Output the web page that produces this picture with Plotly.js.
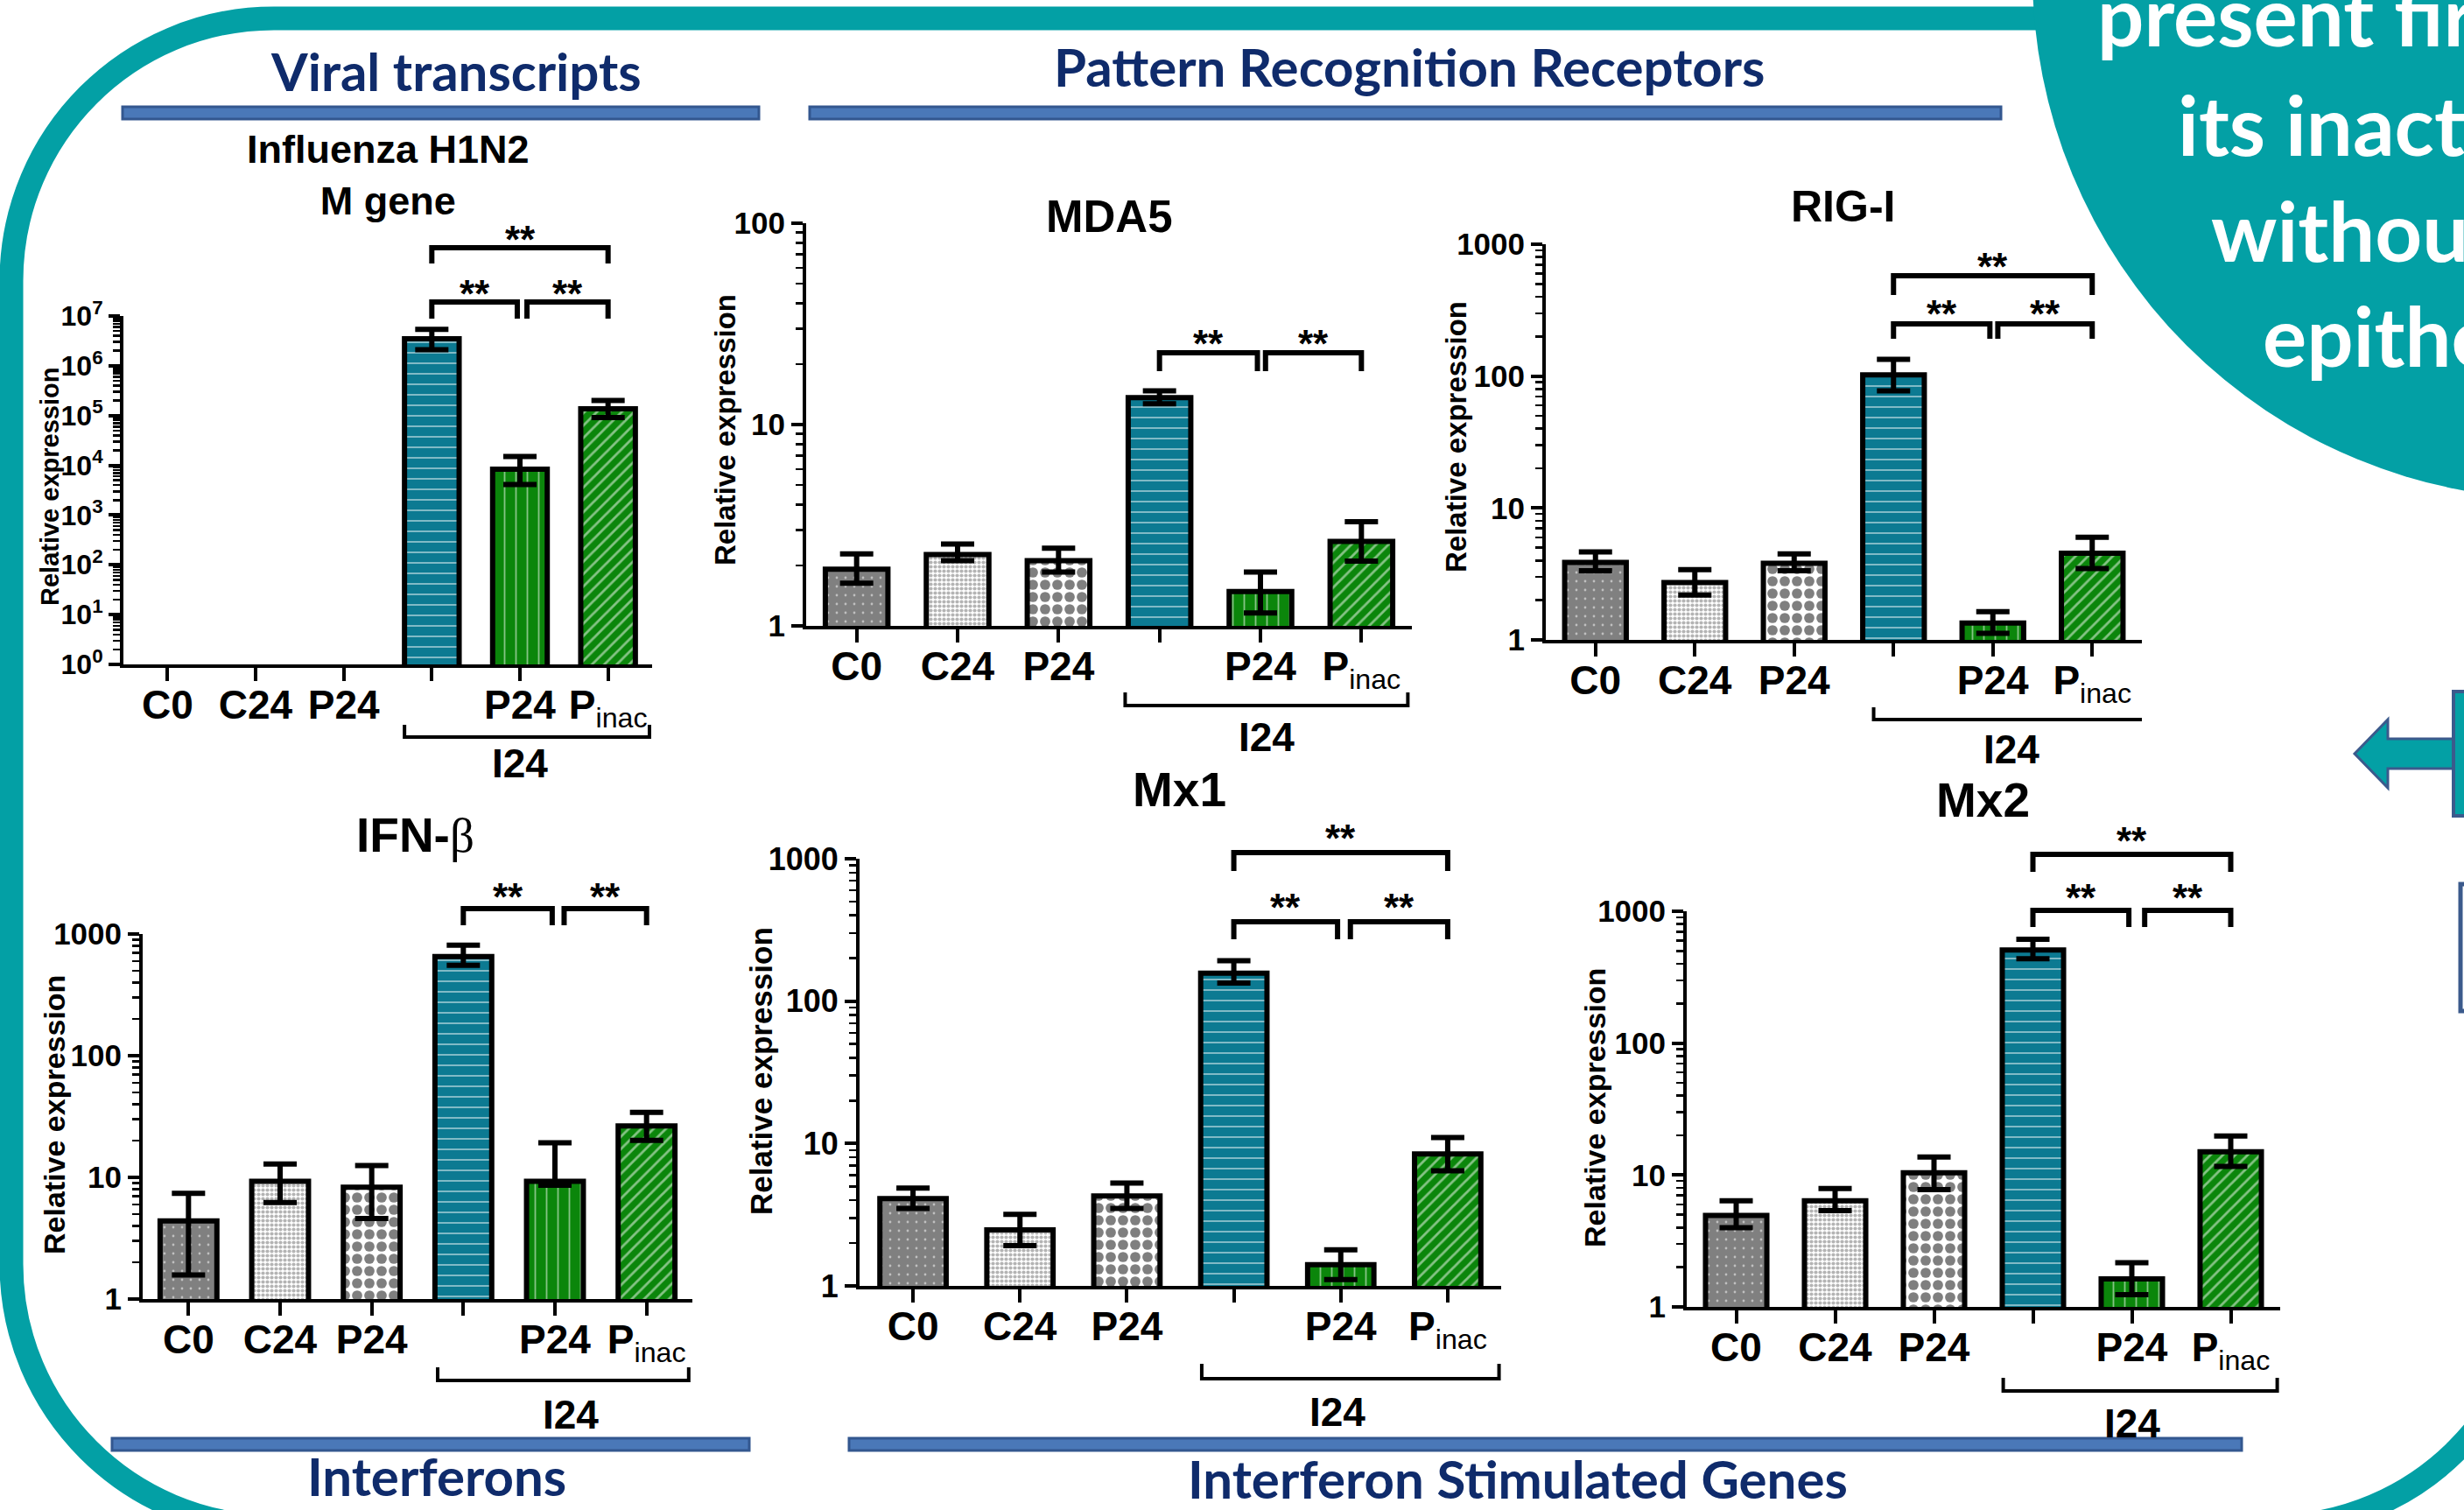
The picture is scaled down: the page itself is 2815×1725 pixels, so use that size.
<!DOCTYPE html>
<html><head><meta charset="utf-8">
<script src="https://cdn.plot.ly/plotly-3.0.1.min.js"></script>
<style>html,body{margin:0;padding:0;background:#fff;overflow:hidden}</style>
</head><body><div id="chart" style="width:2815px;height:1725px"></div>
<script>
// ---------------- DATA ----------------
const categories = ['C0', 'C24', 'P24', 'I24', 'I24 + P24', 'I24 + Pinac'];
const xTickText = ['<b>C0</b>', '<b>C24</b>', '<b>P24</b>', '', '<b>P24</b>', '<b>P</b><sub>inac</sub>'];
const groupLabel = 'I24';
const yAxisTitle = 'Relative expression';

const fluTickVals = [1, 10, 100, 1e3, 1e4, 1e5, 1e6, 1e7];
const fluTickText = ['10<sup>0</sup>', '10<sup>1</sup>', '10<sup>2</sup>', '10<sup>3</sup>', '10<sup>4</sup>', '10<sup>5</sup>', '10<sup>6</sup>', '10<sup>7</sup>'];
const logTickVals = [1, 10, 100, 1000];
const logTickText = ['1', '10', '100', '1000'];

// Influenza H1N2 M gene
const fluMean = [null, null, null, 3.5e6, 8.4e3, 1.37e5];
const fluHi   = [null, null, null, 5.4e6, 1.5e4, 2.0e5];
const fluLo   = [null, null, null, 2.1e6, 4.1e3, 9.1e4];
const fluSig  = [[3, 4, '**'], [4, 5, '**'], [3, 5, '**']];

// MDA5
const mda5Mean = [1.91, 2.26, 2.11, 13.6, 1.48, 2.63];
const mda5Hi   = [2.28, 2.55, 2.43, 14.7, 1.85, 3.29];
const mda5Lo   = [1.63, 2.11, 1.85, 12.7, 1.16, 2.10];
const mda5Sig  = [[3, 4, '**'], [4, 5, '**']];

// RIG-I
const rigMean = [3.87, 2.72, 3.81, 102, 1.34, 4.54];
const rigHi   = [4.64, 3.41, 4.48, 134, 1.64, 6.0];
const rigLo   = [3.34, 2.19, 3.34, 77.4, 1.12, 3.47];
const rigSig  = [[3, 4, '**'], [4, 5, '**'], [3, 5, '**']];

// IFN-beta
const ifnMean = [4.39, 9.27, 8.31, 652, 9.27, 26.5];
const ifnHi   = [7.38, 12.9, 12.5, 811, 19.2, 34.2];
const ifnLo   = [1.58, 6.2, 4.59, 553, 8.6, 20.1];
const ifnSig  = [[3, 4, '**'], [4, 5, '**']];

// Mx1
const mx1Mean = [4.11, 2.47, 4.28, 157, 1.41, 8.44];
const mx1Hi   = [4.86, 3.18, 5.27, 192, 1.79, 11.0];
const mx1Lo   = [3.5, 1.92, 3.5, 134, 1.11, 6.43];
const mx1Sig  = [[3, 4, '**'], [4, 5, '**'], [3, 5, '**']];

// Mx2
const mx2Mean = [4.94, 6.38, 10.4, 509, 1.63, 15.0];
const mx2Hi   = [6.38, 7.89, 13.7, 614, 2.16, 19.8];
const mx2Lo   = [3.99, 5.37, 7.76, 437, 1.24, 11.6];
const mx2Sig  = [[3, 4, '**'], [4, 5, '**'], [3, 5, '**']];

const sectionTitles = ['Viral transcripts', 'Pattern Recognition Receptors', 'Interferons', 'Interferon Stimulated Genes'];
const circleLines = ['present first', 'its inactivation', 'without', 'epithelium'];

// ---------------- STYLE / LAYOUT ----------------
const W = 2815, H = 1725;
const TEAL = '#03a0a5', NAVY = '#0f2b6b', BLUE = '#4a78b8', BLUE_EDGE = '#33578f';
const px = x => x / W;
const py = y => 1 - y / H;
const pt = (x, y) => px(x).toFixed(5) + ',' + py(y).toFixed(5);

const barBg    = ['#808080', '#ffffff', '#ffffff', '#0c7a92', '#0b860b', '#0b860b'];
const barFg    = ['#ffffff', '#6a6a6a', '#000000', '#ffffff', '#ffffff', '#ffffff'];
const barShape = ['.', '.', '.', '-', '|', '/'];
const barSize  = [10, 5, 14, 12, 13, 10];
const barSolid = [0.06, 0.55, 0.55, 0.16, 0.14, 0.28];

const AX = 'Liberation Sans';
const panels = [
  {mean: fluMean, hi: fluHi, lo: fluLo, sig: fluSig, flu: true,
   title: '<b>Influenza H1N2</b><br><b>M gene</b>', tSize: 45, tX: 443, tY: 200,
   x0: 141, x1: 745, yt: 361, yb: 759, dec: 7, ytX: 57, ytY: 556, ytS: 29, tickS: 32,
   pairY: 345, pairLeg: 364, topY: 283, topLeg: 301, starPair: 325, starTop: 263, gap: 0.08,
   gY: 842, gLeg: 828, g0: 2.69, g1: 5.47, gLX: 4.0, gLY: 872},
  {mean: mda5Mean, hi: mda5Hi, lo: mda5Lo, sig: mda5Sig,
   title: '<b>MDA5</b>', tSize: 51, tX: 1267, tY: 247,
   x0: 921, x1: 1613, yt: 255, yb: 715, dec: 2, ytX: 829, ytY: 491, ytS: 33, tickS: 35,
   pairY: 403, pairLeg: 424, starPair: 382, gap: 0.05,
   gY: 806, gLeg: 791, g0: 2.66, g1: 5.46, gLX: 4.06, gLY: 842},
  {mean: rigMean, hi: rigHi, lo: rigLo, sig: rigSig,
   title: '<b>RIG-I</b>', tSize: 50, tX: 2105, tY: 236,
   x0: 1766, x1: 2447, yt: 279, yb: 731, dec: 3, ytX: 1663, ytY: 499, ytS: 33, tickS: 35,
   pairY: 370, pairLeg: 387, topY: 315, topLeg: 337, starPair: 348, starTop: 294, gap: 0.05,
   gY: 822, gLeg: 808, g0: 2.80, g1: 5.53, gLX: 4.19, gLY: 856},
  {mean: ifnMean, hi: ifnHi, lo: ifnLo, sig: ifnSig,
   title: '<b>IFN-</b><span style="font-family:Liberation Serif;font-weight:normal">β</span>', tSize: 55, tX: 474, tY: 954,
   x0: 163, x1: 791, yt: 1067, yb: 1484, dec: 3, ytX: 62, ytY: 1274, ytS: 34, tickS: 35,
   pairY: 1038, pairLeg: 1057, starPair: 1014, gap: 0.1,
   gY: 1577, gLeg: 1562, g0: 2.72, g1: 5.46, gLX: 4.17, gLY: 1616},
  {mean: mx1Mean, hi: mx1Hi, lo: mx1Lo, sig: mx1Sig,
   title: '<b>Mx1</b>', tSize: 55, tX: 1347, tY: 902,
   x0: 982, x1: 1715, yt: 981, yb: 1469, dec: 3, ytX: 869, ytY: 1224, ytS: 35, tickS: 36,
   pairY: 1053, pairLeg: 1073, topY: 974, topLeg: 995, starPair: 1026, starTop: 947, gap: 0.09,
   gY: 1575, gLeg: 1558, g0: 2.70, g1: 5.48, gLX: 3.97, gLY: 1613},
  {mean: mx2Mean, hi: mx2Hi, lo: mx2Lo, sig: mx2Sig,
   title: '<b>Mx2</b>', tSize: 55, tX: 2265, tY: 914,
   x0: 1927, x1: 2605, yt: 1041, yb: 1493, dec: 3, ytX: 1822, ytY: 1266, ytS: 34, tickS: 35,
   pairY: 1040, pairLeg: 1059, topY: 976, topLeg: 996, starPair: 1015, starTop: 950, gap: 0.13,
   gY: 1589, gLeg: 1574, g0: 2.70, g1: 5.47, gLX: 4.0, gLY: 1626}
];

function minorVals(dec) {
  const v = [];
  for (let d = 0; d < dec; d++) for (let m = 2; m <= 9; m++) v.push(m * Math.pow(10, d));
  return v;
}

const traces = [], shapes = [], annotations = [];
const layout = {
  width: W, height: H, margin: {l: 0, r: 0, t: 0, b: 0, pad: 0},
  paper_bgcolor: '#ffffff', plot_bgcolor: 'rgba(0,0,0,0)',
  showlegend: false, hovermode: false, bargap: 0, barmode: 'overlay'
};

panels.forEach((p, i) => {
  const n = i + 1, xs = n === 1 ? '' : String(n);
  const xa = 'x' + xs, ya = 'y' + xs;
  const xIdx = categories.map((_, k) => k);
  const labelled = xIdx.filter(k => xTickText[k] !== '');
  const unlabelled = xIdx.filter(k => xTickText[k] === '');
  categories.forEach((c, k) => {
    if (p.mean[k] == null) return;
    traces.push({
      type: 'bar', name: c, x: [k], y: [p.mean[k]], xaxis: xa, yaxis: ya, width: 0.62,
      marker: {color: barBg[k], line: {color: '#000', width: 6},
        pattern: {shape: barShape[k], fgcolor: barFg[k], bgcolor: barBg[k], size: barSize[k], solidity: barSolid[k], fillmode: 'overlay'}},
      error_y: {type: 'data', symmetric: false, color: '#000', thickness: 6, width: 19,
        array: [p.hi[k] - p.mean[k]], arrayminus: [p.mean[k] - p.lo[k]]}
    });
  });
  layout['xaxis' + xs] = {
    domain: [px(p.x0), px(p.x1)], anchor: ya, range: [-0.5, 5.5], fixedrange: true,
    showline: true, linewidth: 4, linecolor: '#000', showgrid: false, zeroline: false,
    ticks: 'outside', ticklen: 15, tickwidth: 4, tickcolor: '#000',
    tickmode: 'array', tickvals: labelled, ticktext: labelled.map(k => xTickText[k]), ticklabelstandoff: -12,
    tickfont: {family: AX, size: 46, color: '#000'},
    minor: {tickmode: 'array', tickvals: unlabelled, ticks: 'outside', ticklen: 15, tickwidth: 4, tickcolor: '#000', showgrid: false}
  };
  layout['yaxis' + xs] = {
    domain: [py(p.yb), py(p.yt)], anchor: xa, type: 'log', range: [0, p.dec], fixedrange: true,
    showline: true, linewidth: 4, linecolor: '#000', showgrid: false, zeroline: false,
    ticks: 'outside', ticklen: 13, tickwidth: 4, tickcolor: '#000',
    tickmode: 'array',
    tickvals: p.flu ? fluTickVals : logTickVals.slice(0, p.dec + 1),
    ticktext: p.flu ? fluTickText : logTickText.slice(0, p.dec + 1),
    tickfont: {family: AX, size: p.tickS, color: '#000', weight: 'bold'},
    minor: {tickmode: 'array', tickvals: minorVals(p.dec), ticks: 'outside', ticklen: 8, tickwidth: 2.5, tickcolor: '#000', showgrid: false}
  };
  annotations.push({xref: 'paper', yref: 'paper', x: px(p.tX), y: py(p.tY), xanchor: 'center', yanchor: 'middle',
    text: p.title, showarrow: false, font: {family: AX, size: p.tSize, color: '#000'}});
  annotations.push({xref: 'paper', yref: 'paper', x: px(p.ytX), y: py(p.ytY), xanchor: 'center', yanchor: 'middle',
    text: yAxisTitle, textangle: -90, showarrow: false, font: {family: AX, size: p.ytS, color: '#000', weight: 'bold'}});
  p.sig.forEach(s => {
    const [a, b, lab] = s;
    const top = (b - a) > 1;
    let xa0 = a, xb0 = b;
    if (!top) { if (a === 3) xb0 = b - 0.03; else xa0 = a + p.gap; }
    const yBar = top ? p.topY : p.pairY, yLeg = top ? p.topLeg : p.pairLeg;
    shapes.push({type: 'path', xref: xa, yref: 'paper', line: {color: '#000', width: 6},
      path: 'M' + xa0 + ',' + py(yLeg) + ' L' + xa0 + ',' + py(yBar) + ' L' + xb0 + ',' + py(yBar) + ' L' + xb0 + ',' + py(yLeg)});
    annotations.push({xref: xa, yref: 'paper', x: (xa0 + xb0) / 2, y: py((top ? p.starTop : p.starPair) + 10),
      xanchor: 'center', yanchor: 'middle', text: lab, showarrow: false, font: {family: AX, size: 44, color: '#000', weight: 'bold'}});
  });
  shapes.push({type: 'path', xref: xa, yref: 'paper', line: {color: '#000', width: 4},
    path: 'M' + p.g0 + ',' + py(p.gLeg) + ' L' + p.g0 + ',' + py(p.gY) + ' L' + p.g1 + ',' + py(p.gY) + ' L' + p.g1 + ',' + py(p.gLeg)});
  annotations.push({xref: xa, yref: 'paper', x: p.gLX, y: py(p.gLY), xanchor: 'center', yanchor: 'middle',
    text: '<b>' + groupLabel + '</b>', showarrow: false, font: {family: AX, size: 46, color: '#000'}});
});

function roundRect(x0, y0, x1, y1, r) {
  const k = 0.5523 * r;
  return 'M' + pt(x0, y0 + r) + ' C' + pt(x0, y0 + r - k) + ' ' + pt(x0 + r - k, y0) + ' ' + pt(x0 + r, y0) +
    ' L' + pt(x1 - r, y0) + ' C' + pt(x1 - r + k, y0) + ' ' + pt(x1, y0 + r - k) + ' ' + pt(x1, y0 + r) +
    ' L' + pt(x1, y1 - r) + ' C' + pt(x1, y1 - r + k) + ' ' + pt(x1 - r + k, y1) + ' ' + pt(x1 - r, y1) +
    ' L' + pt(x0 + r, y1) + ' C' + pt(x0 + r - k, y1) + ' ' + pt(x0, y1 - r + k) + ' ' + pt(x0, y1 - r) + ' Z';
}
shapes.unshift({type: 'path', xref: 'paper', yref: 'paper', path: roundRect(13, 21, 2895, 1744, 300),
  line: {color: TEAL, width: 27}, fillcolor: 'rgba(0,0,0,0)', layer: 'below'});
shapes.push({type: 'circle', xref: 'paper', yref: 'paper', x0: px(2322), x1: px(3522), y0: py(570), y1: py(-630),
  fillcolor: TEAL, line: {width: 0}});
shapes.push({type: 'path', xref: 'paper', yref: 'paper', fillcolor: TEAL, line: {color: '#3b5a8c', width: 3},
  path: 'M' + pt(2690, 861) + ' L' + pt(2728, 822) + ' L' + pt(2728, 844) + ' L' + pt(2805, 844) + ' L' + pt(2805, 878) +
    ' L' + pt(2728, 878) + ' L' + pt(2728, 900) + ' Z'});
shapes.push({type: 'rect', xref: 'paper', yref: 'paper', x0: px(2803), x1: px(2860), y0: py(932), y1: py(790),
  fillcolor: TEAL, line: {color: '#3b5a8c', width: 4}});
shapes.push({type: 'rect', xref: 'paper', yref: 'paper', x0: px(2811), x1: px(2870), y0: py(1155), y1: py(1010),
  fillcolor: '#ffffff', line: {color: '#3b5a8c', width: 5}});

const hdrBars = [[140, 122, 867, 136], [925, 122, 2286, 136], [128, 1643, 856, 1657], [970, 1643, 2561, 1657]];
hdrBars.forEach(b => {
  shapes.push({type: 'rect', xref: 'paper', yref: 'paper', x0: px(b[0]), x1: px(b[2]), y0: py(b[3]), y1: py(b[1]),
    fillcolor: BLUE, line: {color: BLUE_EDGE, width: 3}});
});
const hdrPos = [[521, 81], [1610, 76], [499, 1686], [1734, 1689]];
sectionTitles.forEach((t, k) => {
  annotations.push({xref: 'paper', yref: 'paper', x: px(hdrPos[k][0]), y: py(hdrPos[k][1]), xanchor: 'center', yanchor: 'middle',
    text: t, showarrow: false, font: {family: 'Lato', size: 60, color: NAVY, weight: 'bold'}});
});

const circPos = [[2394, 16], [2486, 141], [2524, 263], [2583, 382]];
circleLines.forEach((t, k) => {
  annotations.push({xref: 'paper', yref: 'paper', x: px(circPos[k][0]), y: py(circPos[k][1]), xanchor: 'left', yanchor: 'middle',
    text: t, showarrow: false, font: {family: 'Lato', size: 94, color: '#ffffff', weight: 'bold'}});
});

layout.shapes = shapes;
layout.annotations = annotations;
Plotly.newPlot('chart', traces, layout, {displayModeBar: false, staticPlot: true});
</script></body></html>
